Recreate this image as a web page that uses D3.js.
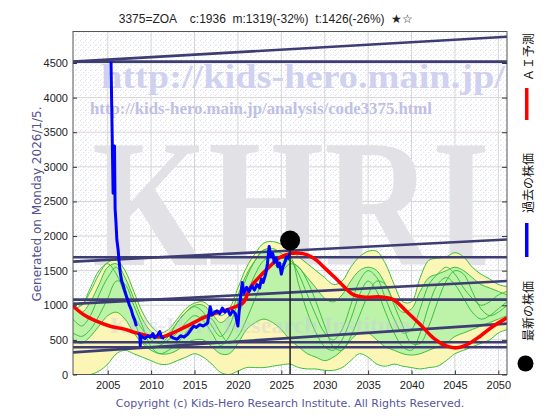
<!DOCTYPE html>
<html><head><meta charset="utf-8">
<script src="https://cdn.jsdelivr.net/npm/d3@7"></script>
<style>body{margin:0;background:#fff} text{white-space:pre}</style>
</head><body>
<script>
// yearly band data 2001..2051
const years = d3.range(2001, 2052);
const outerHi = [1050,1000,1200,1450,1620,1650,1500,1200,900,700,600,650,800,950,1030,1050,950,850,950,1250,1550,1750,1900,1920,1880,1800,
  1700,1600,1500,1400,1300,1350,1550,1700,1780,1780,1600,1300,1050,1050,1400,1650,1680,1700,1760,1700,1550,1450,1380,1300,1270];
const outerLo = [0,0,0,50,150,300,350,300,250,200,150,150,200,250,300,250,150,30,0,50,100,100,100,120,140,150,
  100,80,80,60,60,100,200,300,250,150,120,150,120,100,80,100,120,200,300,350,400,450,500,600,650];
const innerHi = [1000,900,1050,1300,1550,1600,1400,1100,800,620,550,600,750,900,1000,1000,880,750,850,1150,1450,1650,1800,1820,1750,1650,
  1550,1400,1250,1100,1050,1150,1350,1500,1550,1500,1300,1050,900,950,1200,1400,1450,1500,1550,1500,1400,1300,1250,1200,1150];
const innerLo = [500,450,550,700,850,900,800,600,450,350,300,300,350,450,500,500,400,300,300,450,650,750,800,750,650,500,
  400,300,250,200,250,350,500,600,600,500,400,350,300,280,300,350,400,450,550,600,650,700,750,800,850];
const sim1 = [950,1000,1250,1500,1600,1450,1150,850,650,500,450,550,750,900,980,900,700,550,700,1050,1400,1650,1800,1750,1600,1650,
  1450,1150,850,600,500,650,1000,1350,1500,1400,1100,800,600,650,950,1300,1450,1550,1450,1250,1100,1000,1050,1150,1200];
const sim2 = [600,550,650,850,1100,1350,1300,1000,700,400,300,350,450,600,750,850,800,600,450,550,800,1100,1400,1600,1500,1600,
  1550,1350,1050,700,400,350,550,850,1150,1350,1300,1000,700,450,450,700,1050,1350,1500,1450,1200,950,850,900,1000];
const sim3 = [800,700,850,1150,1400,1550,1250,800,500,380,420,500,600,750,850,780,600,420,550,850,1150,1450,1650,1700,1680,1700,
  1300,900,600,400,350,500,800,1150,1350,1200,900,600,400,350,600,1000,1300,1400,1300,1100,900,800,850,950,1050];

// AI prediction (red)
const aiYears  = [2001,2002.2,2003.7,2005.3,2006.8,2008.3,2009.9,2011.4,2012.9,2014.5,2016,2017.6,2019.3,2020.6,2021.4,2022.4,2023.3,2024.8,2026,2027.5,2028.7,2030.2,2031.8,2033.3,2034.8,2036.4,2037.9,2039.4,2041,2042.5,2044.1,2045.2,2046.4,2047.9,2049.4,2051];
const aiValues = [990,866,770,697,659,601,553,545,625,722,818,893,960,1035,1251,1400,1515,1688,1746,1746,1683,1515,1323,1154,1116,1121,1082,914,722,530,409,385,433,553,697,818];

// past prices (blue), null = gap
const pastYears  = [2005.38,2005.62,2005.68,2005.72,2005.78,2005.85,2005.95,2006.05,2006.2,2006.3,2006.45,2006.6,2006.75,2006.9,2007.1,2007.3,2007.5,2007.7,2007.9,2008.1,2008.3,2008.45,2008.55,2008.7,2008.75,2008.8,2009,2009.3,2009.6,2009.9,2010.2,2010.4,2010.7,2011,2011.2,2011.5,2011.7,2012.2,2012.5,2013,2013.4,2013.8,2014.2,2014.6,2014.9,2015.2,2015.6,2016,2016.5,2016.8,2017,2017.3,2017.6,2017.9,2018.2,2018.5,2018.8,2019.1,2019.4,2019.7,2020,2020.2,2020.5,2020.7,2021,2021.3,2021.6,2021.9,2022.2,2022.5,2022.7,2022.9,2023.2,2023.4,2023.6,2023.8,2024,2024.2,2024.4,2024.6,2024.8,2025,2025.2,2025.4,2025.6,2025.8,2026];
const pastValues = [4520,2620,3150,2750,3300,2400,2200,1950,1800,1650,1470,1350,1300,1230,1150,1080,1000,940,850,790,700,null,600,560,420,560,540,520,560,540,590,530,560,620,540,520,null,560,530,510,560,540,580,650,700,680,720,700,740,980,860,900,920,880,960,900,940,860,920,880,700,1000,1330,1180,1260,1200,1280,1220,1300,1250,1380,1330,1450,1600,1850,1700,1750,1620,1680,1560,1610,1450,1560,1620,1700,1680,1760];

// support / resistance lines: value at 2001 and at 2051
const trendStart = [4520,1693,1082,466,394,4520,1630,1020,320];
const trendEnd   = [4520,1693,1082,466,394,4880,1950,1350,735];

const latestYear = 2026.01, latestPrice = 1936;
const xTicks = d3.range(2005, 2051, 5);
const yTicks = d3.range(0, 4501, 500);

const svg = d3.select('body').append('svg').attr('width', 560).attr('height', 420);
const defs = svg.append('defs');
const pat = defs.append('pattern').attr('id', 'bgdots').attr('width', 5).attr('height', 5)
  .attr('patternUnits', 'userSpaceOnUse');
pat.append('rect').attr('width', 5).attr('height', 5).attr('fill', '#ffffff');
pat.append('rect').attr('x', 0).attr('y', 0).attr('width', 1).attr('height', 1).attr('fill', '#f3d2f3');
pat.append('rect').attr('x', 3).attr('y', 2).attr('width', 1).attr('height', 1).attr('fill', '#cdf0f3');
pat.append('rect').attr('x', 1).attr('y', 4).attr('width', 1).attr('height', 1).attr('fill', '#e6e6e6');
defs.append('clipPath').attr('id', 'plotclip').append('rect')
  .attr('x', 73).attr('y', 31.5).attr('width', 434).attr('height', 343);

const x = d3.scaleLinear().domain([2001, 2051]).range([73, 507]);
const y = d3.scaleLinear().domain([0, 4955]).range([374.5, 31.5]);

svg.append('rect').attr('x', 73).attr('y', 31.5).attr('width', 434).attr('height', 343).attr('fill', 'url(#bgdots)');

const plot = svg.append('g').attr('clip-path', 'url(#plotclip)');

// grid
plot.selectAll('.vg').data(xTicks).enter().append('line')
  .attr('x1', d => x(d)).attr('x2', d => x(d)).attr('y1', 31.5).attr('y2', 374.5)
  .attr('stroke', '#d6d6d6').attr('stroke-width', 1);
plot.selectAll('.hg').data(yTicks.slice(1)).enter().append('line')
  .attr('x1', 73).attr('x2', 507).attr('y1', d => y(d)).attr('y2', d => y(d))
  .attr('stroke', '#d6d6d6').attr('stroke-width', 1);

// watermarks
plot.append('text').attr('x', 92).attr('y', 265).attr('textLength', 398).attr('lengthAdjust', 'spacingAndGlyphs')
  .style('font-family', '"Liberation Serif", serif').style('font-weight', 'bold').style('font-size', '182px')
  .attr('fill', '#e2e2e6').text('KHRI');
plot.append('text').attr('x', 101).attr('y', 88).attr('textLength', 404).attr('lengthAdjust', 'spacingAndGlyphs')
  .style('font-family', '"Liberation Serif", serif').style('font-weight', 'bold').style('font-size', '33px')
  .attr('fill', '#d0d0f0').text('http://kids-hero.main.jp/');
plot.append('text').attr('x', 90).attr('y', 114).attr('textLength', 342).attr('lengthAdjust', 'spacingAndGlyphs')
  .style('font-family', '"Liberation Serif", serif').style('font-weight', 'bold').style('font-size', '17px')
  .attr('fill', '#bfbfe6').text('http://kids-hero.main.jp/analysis/code3375.html');

// simulation bands
const band = (hi, lo) => d3.area().x((d, i) => x(years[i])).y0((d, i) => y(lo[i])).y1((d, i) => y(hi[i]))
  .curve(d3.curveCatmullRom);
const simLine = d3.line().x((d, i) => x(years[i])).y(d => y(d)).curve(d3.curveCatmullRom);
plot.append('path').datum(years).attr('d', band(outerHi, outerLo)).attr('fill', '#fbf6b6');
plot.append('path').datum(years).attr('d', band(innerHi, innerLo)).attr('fill', '#bdf3a9');
[outerHi, outerLo, innerHi, innerLo, sim1, sim2, sim3].forEach(s => {
  plot.append('path').datum(s).attr('d', simLine).attr('fill', 'none')
    .attr('stroke', '#3cbf3c').attr('stroke-width', 1);
});

plot.append('text').attr('x', 110).attr('y', 333).attr('textLength', 300).attr('lengthAdjust', 'spacingAndGlyphs')
  .style('font-family', '"Liberation Serif", serif').style('font-weight', 'bold').style('font-size', '24px')
  .attr('fill', '#c4c4ea').attr('opacity', 0.35).text('Kids-Hero Research Institute');

// trend lines
plot.selectAll('.trend').data(trendStart).enter().append('line')
  .attr('x1', x(2001)).attr('x2', x(2051))
  .attr('y1', d => y(d)).attr('y2', (d, i) => y(trendEnd[i]))
  .attr('stroke', '#3d3d74').attr('stroke-width', 2.6);

// AI prediction
plot.append('path').datum(aiValues)
  .attr('d', d3.line().x((d, i) => x(aiYears[i])).y(d => y(d)).curve(d3.curveCatmullRom))
  .attr('fill', 'none').attr('stroke', '#ff0000').attr('stroke-width', 3.5);

// past prices
plot.append('path').datum(pastValues)
  .attr('d', d3.line().defined(d => d != null).x((d, i) => x(pastYears[i])).y(d => y(d)))
  .attr('fill', 'none').attr('stroke', '#0000ff').attr('stroke-width', 3).attr('stroke-linejoin', 'round');

// today
plot.append('line').attr('x1', x(latestYear)).attr('x2', x(latestYear))
  .attr('y1', y(latestPrice)).attr('y2', 374.5).attr('stroke', '#222').attr('stroke-width', 1.5);
plot.append('circle').attr('cx', x(latestYear)).attr('cy', y(latestPrice)).attr('r', 10).attr('fill', '#000');

// frame
svg.append('rect').attr('x', 73).attr('y', 31.5).attr('width', 434).attr('height', 343)
  .attr('fill', 'none').attr('stroke', '#555').attr('stroke-width', 1);

// axes
const yAxis = svg.append('g').attr('transform', 'translate(73,0)')
  .call(d3.axisLeft(y).tickValues(yTicks).tickFormat(d3.format('d')).tickSize(0).tickPadding(5));
const xAxis = svg.append('g').attr('transform', 'translate(0,374.5)')
  .call(d3.axisBottom(x).tickValues(xTicks).tickFormat(d3.format('d')).tickSize(0).tickPadding(7));
[yAxis, xAxis].forEach(a => {
  a.select('.domain').remove();
  a.selectAll('text').style('font-family', '"Liberation Sans", Arial, sans-serif').style('font-size', '11px').attr('fill', '#222');
});
svg.append('g').attr('transform', 'translate(507,0)')
  .call(d3.axisLeft(y).tickValues(yTicks).tickSize(5).tickFormat(''))
  .call(g => g.select('.domain').remove()).selectAll('line').attr('stroke', '#333');
svg.append('g').attr('transform', 'translate(73,0)')
  .call(d3.axisRight(y).tickValues(yTicks).tickSize(4).tickFormat(''))
  .call(g => g.select('.domain').remove()).selectAll('line').attr('stroke', '#333');
svg.append('g').attr('transform', 'translate(0,374.5)')
  .call(d3.axisTop(x).tickValues(xTicks).tickSize(4).tickFormat(''))
  .call(g => g.select('.domain').remove()).selectAll('line').attr('stroke', '#333');

// title
svg.append('text').attr('x', 266).attr('y', 23).attr('text-anchor', 'middle')
  .style('font-family', '"Liberation Sans", Arial, sans-serif').style('font-size', '12px').attr('fill', '#222')
  .text('3375=ZOA    c:1936  m:1319(-32%)  t:1426(-26%)  ★☆');

// side label
svg.append('text').attr('transform', 'translate(41,204) rotate(-90)').attr('text-anchor', 'middle')
  .style('font-family', '"DejaVu Sans", sans-serif').style('font-size', '12px').attr('fill', '#50508e')
  .text('Generated on Monday 2026/1/5.');

// copyright
svg.append('text').attr('x', 290).attr('y', 407).attr('text-anchor', 'middle')
  .style('font-family', '"DejaVu Sans", sans-serif').style('font-size', '11px').attr('fill', '#55559a')
  .text('Copyright (c) Kids-Hero Research Institute. All Rights Reserved.');

// legend (rotated)
const legFont = '"Noto Sans CJK JP", sans-serif';
const legend = [
  {label: 'ＡＩ予測', ty: 81, color: '#ff0000', b0: 88, b1: 120},
  {label: '過去の株価', ty: 213, color: '#0000ff', b0: 223, b1: 257},
  {label: '最新の株価', ty: 341, color: null}
];
legend.forEach(d => {
  svg.append('text').attr('transform', `translate(533,${d.ty}) rotate(-90)`)
    .style('font-family', legFont).style('font-size', '12px').attr('fill', '#111').text(d.label);
  if (d.color) svg.append('rect').attr('x', 525).attr('y', d.b0).attr('width', 3.5).attr('height', d.b1 - d.b0).attr('fill', d.color);
});
svg.append('circle').attr('cx', 525.5).attr('cy', 363.5).attr('r', 8).attr('fill', '#000');
</script>
</body></html>
